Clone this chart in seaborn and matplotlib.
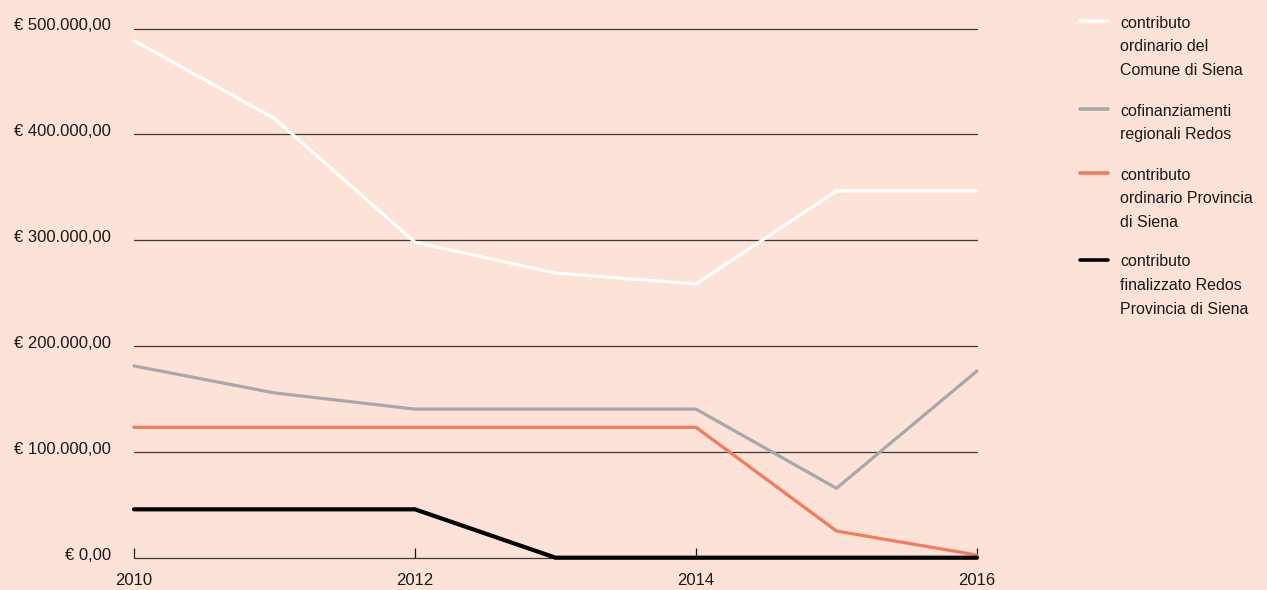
import matplotlib
matplotlib.use("Agg")
import matplotlib.pyplot as plt
import matplotlib.transforms as mtrans
from matplotlib.lines import Line2D
import seaborn as sns
import pandas as pd

years = [2010, 2011, 2012, 2013, 2014, 2015, 2016]
comune = [488500, 415000, 298000, 269000, 258600, 346500, 346500]
regionali = [181200, 155700, 140400, 140400, 140400, 65600, 176400]
provincia = [123200, 123200, 123200, 123200, 123200, 25200, 2500]
finalizzato = [45700, 45700, 45700, 0, 0, 0, 0]

labels = [
    "contributo\nordinario del\nComune di Siena",
    "cofinanziamenti\nregionali Redos",
    "contributo\nordinario Provincia\ndi Siena",
    "contributo\nfinalizzato Redos\nProvincia di Siena",
]
colors = ["#ffffff", "#a7a8ab", "#f47b5b", "#000000"]
yticks = [0, 100000, 200000, 300000, 400000, 500000]
ytick_labels = ["€ 0,00", "€ 100.000,00", "€ 200.000,00", "€ 300.000,00",
                "€ 400.000,00", "€ 500.000,00"]
xticks = [2010, 2012, 2014, 2016]

series = [comune, regionali, provincia, finalizzato]
df = pd.DataFrame({
    "anno": years * 4,
    "valore": [v for s in series for v in s],
    "serie": [lab for lab in labels for _ in years],
})

bg = "#fde2d7"
txt = "#1a1a1a"
sns.set_theme(style="white")
plt.rcParams["font.family"] = ["Liberation Sans", "DejaVu Sans"]

fig = plt.figure(figsize=(12.67, 5.90), dpi=100, facecolor=bg)
ax = fig.add_axes([134 / 1267, 1 - 557.7 / 590, (977 - 134) / 1267, (557.7 - 28.5) / 590])
ax.set_facecolor(bg)

for y in yticks:
    ax.axhline(y, color="#3a3a3a", lw=0.9, zorder=1, clip_on=False)

widths = [2.3, 2.3, 2.3, 3.0]
for lab, c, w in zip(labels, colors, widths):
    sub = df[df["serie"] == lab]
    sns.lineplot(data=sub, x="anno", y="valore", color=c, lw=w, ax=ax,
                 legend=False, zorder=3, clip_on=False)

ax.set_xlim(2010, 2016)
ax.set_ylim(0, 500000)
ax.set_xticks(xticks)
ax.set_xticklabels([str(x) for x in xticks])
ax.set_yticks(yticks)
ax.set_yticklabels(ytick_labels)
ax.tick_params(axis="x", bottom=True, direction="in", length=7.2, width=0.9, color=txt,
               pad=11, labelsize=12, labelcolor=txt)
ax.tick_params(axis="y", left=False, length=0, pad=16.5, labelsize=12, labelcolor=txt)
ax.set_xlabel("")
ax.set_ylabel("")
for s in ax.spines.values():
    s.set_visible(False)

offset = mtrans.ScaledTranslation(0, 4 / 100, fig.dpi_scale_trans)
for lbl in ax.get_yticklabels():
    lbl.set_transform(lbl.get_transform() + offset)

# legend
entry_tops = [23, 111, 175, 262]
pitch = 23.8
for lab, c, top in zip(labels, colors, entry_tops):
    hy = 1 - (top - 2) / 590
    fig.add_artist(Line2D([1080 / 1267, 1108 / 1267], [hy, hy], color=c, lw=2.6,
                          transform=fig.transFigure))
    for i, line in enumerate(lab.split("\n")):
        fig.text(1120 / 1267, 1 - (top + i * pitch) / 590, line, fontsize=11.5,
                 color=txt, va="center", ha="left")

fig.savefig("out.png", dpi=100, facecolor=bg)
